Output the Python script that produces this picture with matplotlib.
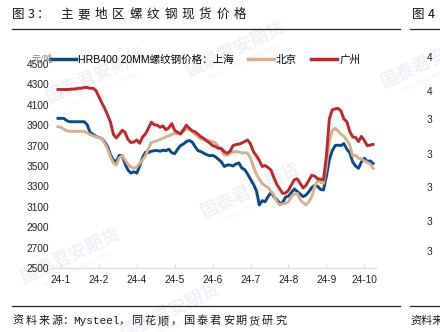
import numpy as np
import matplotlib
matplotlib.use("Agg")
import matplotlib.pyplot as plt
from matplotlib.lines import Line2D

plt.rcParams['font.family'] = ['Liberation Sans', 'Noto Sans CJK SC', 'DejaVu Sans']

# Spot rebar prices (yuan/ton), one value per trading-day step
shanghai = [3967, 3967, 3967, 3945, 3934, 3934, 3934, 3934, 3934, 3934,
            3905, 3830, 3810, 3790, 3780, 3770, 3738, 3690, 3610, 3555,
            3545, 3605, 3600, 3520, 3460, 3430, 3444, 3430, 3500, 3585,
            3635, 3630, 3645, 3650, 3652, 3645, 3655, 3650, 3665, 3630,
            3620, 3665, 3700, 3715, 3740, 3750, 3735, 3690, 3650, 3641,
            3625, 3610, 3600, 3605, 3590, 3565, 3540, 3495, 3510, 3510,
            3500, 3520, 3530, 3480, 3465, 3420, 3370, 3320, 3260, 3118,
            3160, 3150, 3200, 3240, 3200, 3170, 3134, 3140, 3195, 3205,
            3240, 3275, 3250, 3225, 3200, 3215, 3248, 3290, 3310, 3300,
            3270, 3265, 3400, 3560, 3650, 3700, 3705, 3700, 3720, 3665,
            3630, 3540, 3500, 3478, 3540, 3576, 3545, 3550, 3526]

beijing = [3885, 3880, 3860, 3845, 3840, 3840, 3840, 3840, 3840, 3838,
           3825, 3808, 3795, 3785, 3778, 3770, 3725, 3665, 3590, 3530,
           3510, 3580, 3600, 3560, 3515, 3490, 3478, 3490, 3526, 3560,
           3600, 3670, 3730, 3740, 3748, 3760, 3772, 3785, 3795, 3810,
           3820, 3818, 3810, 3840, 3862, 3860, 3840, 3810, 3787, 3765,
           3760, 3755, 3745, 3740, 3725, 3690, 3660, 3610, 3605, 3625,
           3640, 3640, 3638, 3630, 3630, 3625, 3575, 3495, 3420, 3370,
           3330, 3305, 3290, 3250, 3216, 3150, 3118, 3130, 3134, 3150,
           3200, 3225, 3232, 3170, 3140, 3118, 3150, 3200, 3300, 3360,
           3340, 3330, 3500, 3740, 3850, 3868, 3845, 3810, 3790, 3755,
           3706, 3600, 3605, 3576, 3570, 3550, 3535, 3520, 3478]

guangzhou = [4250, 4250, 4250, 4250, 4252, 4255, 4255, 4262, 4262, 4270,
             4270, 4262, 4262, 4240, 4180, 4120, 4066, 4000, 3930, 3810,
             3775, 3810, 3850, 3830, 3760, 3730, 3735, 3755, 3722, 3785,
             3815, 3870, 3930, 3905, 3900, 3880, 3892, 3855, 3875, 3915,
             3850, 3830, 3815, 3855, 3900, 3870, 3845, 3835, 3810, 3787,
             3770, 3745, 3725, 3700, 3690, 3673, 3672, 3640, 3625, 3645,
             3700, 3710, 3715, 3725, 3740, 3755, 3715, 3640, 3600, 3555,
             3495, 3505, 3485, 3460, 3385, 3320, 3275, 3232, 3235, 3262,
             3315, 3365, 3375, 3330, 3285, 3310, 3360, 3410, 3400, 3375,
             3370, 3365, 3600, 3960, 4050, 4060, 4065, 4040, 3960, 3935,
             3840, 3785, 3780, 3740, 3790, 3750, 3700, 3705, 3712]

month_labels = ["24-1", "24-2", "24-4", "24-5", "24-6", "24-7", "24-8", "24-9", "24-10"]
month_tick_idx = [1, 14, 27, 40, 53, 66, 79, 92, 105]
y_ticks = [2500, 2700, 2900, 3100, 3300, 3500, 3700, 3900, 4100, 4300, 4500]

series_names = ["HRB400 20MM螺纹钢价格：上海", "北京", "广州"]
colors = ["#0b4a8a", "#d6b08c", "#c0272d"]

W, H = 440, 332
fig = plt.figure(figsize=(W / 100, H / 100), dpi=100)


def px(x, y):
    return x / W, 1 - y / H


# faint background watermarks
wm_color = "#eef2f7"
for (x, y) in [(95, 75), (235, 48), (430, 60), (250, 190), (70, 255), (170, 310)]:
    fig.text(*px(x, y), "国泰君安期货", fontsize=13, color=wm_color, rotation=25,
             ha="center", va="center", family=["Noto Sans CJK SC"], fontweight="bold", zorder=-5)
    fig.text(*px(x + 8, y + 14), "GUOTAI JUNAN FUTURES", fontsize=4.5, color=wm_color,
             rotation=25, ha="center", va="center", zorder=-5)

x = np.arange(len(shanghai))
ax = fig.add_axes([52 / W, 1 - 268 / H, (376 - 52) / W, (268 - 64) / H])
ax.patch.set_alpha(0)
for vals, name, c in zip([shanghai, beijing, guangzhou], series_names, colors):
    ax.plot(x, vals, color=c, lw=2.1, label=name, solid_joinstyle="round")

ax.set_ylim(2500, 4500)
ax.set_xlim(-2.05, 109)
ax.set_yticks(y_ticks)
ax.set_xticks(month_tick_idx)
ax.set_xticklabels(month_labels)
for s in ["top", "right", "left"]:
    ax.spines[s].set_visible(False)
ax.spines["bottom"].set_color("#d9d9d9")
ax.spines["bottom"].set_linewidth(0.9)
ax.tick_params(axis="y", length=0, pad=2, labelsize=7.3, labelcolor="#222222")
ax.tick_params(axis="x", direction="in", length=3, color="#d9d9d9", pad=5,
               labelsize=7.3, labelcolor="#222222")

leg = ax.legend(loc="upper left", bbox_to_anchor=(-0.007, 1.045), ncol=3, frameon=False,
                fontsize=7.6, handlelength=2.5, handletextpad=0.2, columnspacing=1.3,
                borderaxespad=0, borderpad=0)
for h in leg.get_lines():
    h.set_linewidth(2.5)

fig.text(*px(32, 59), "元/吨", fontsize=6.5, color="#777777", ha="left", va="center",
         family=["Noto Sans CJK SC"])

# header
title = "图 3：主要地区螺纹钢现货价格"
tx = {0: 12, 2: 27.5, 3: 37}
for i, ch in enumerate(title):
    if ch == " ":
        continue
    xx = tx[i] if i in tx else 60 + (i - 4) * 17.35
    fig.text(*px(xx, 14.5), ch, fontsize=9, color="#111111", ha="left", va="center",
             family=["Noto Sans CJK SC"])
fig.text(*px(412, 14.5), "图", fontsize=9, color="#111111", ha="left", va="center",
         family=["Noto Sans CJK SC"])
fig.text(*px(428, 14.5), "4", fontsize=9, color="#111111", ha="left", va="center",
         family=["Noto Sans CJK SC"])

for (x0, x1) in [(12, 400), (410, 440)]:
    for yy in (29, 306):
        fig.add_artist(Line2D([x0 / W, x1 / W], [1 - yy / H, 1 - yy / H],
                              color="#222222", lw=0.9))

# partial axis labels of the neighbouring chart
for yy, d in zip([58, 92, 120, 155, 188, 222, 252], "4433333"):
    fig.text(*px(427, yy), d, fontsize=7.3, color="#222222", ha="left", va="center")

# source line
src = [("资", 12), ("料", 25.3), ("来", 38.6), ("源", 51.9), ("：", 62)]
for ch, xx in src:
    fig.text(*px(xx, 321), ch, fontsize=8, color="#1a1a1a", ha="left", va="center",
             family=["Noto Sans CJK SC"])
fig.text(*px(73, 321), "Mysteel", fontsize=8, color="#1a1a1a", ha="left", va="center",
         family=["Liberation Mono"])
rest = "，同花顺，国泰君安期货研究"
for i, ch in enumerate(rest):
    fig.text(*px(118 + i * 13.1, 321), ch, fontsize=8, color="#1a1a1a", ha="left", va="center",
             family=["Noto Sans CJK SC"])
fig.text(*px(410, 321), "资料来", fontsize=8, color="#1a1a1a", ha="left", va="center",
         family=["Noto Sans CJK SC"])

fig.savefig("out.png", dpi=100)
